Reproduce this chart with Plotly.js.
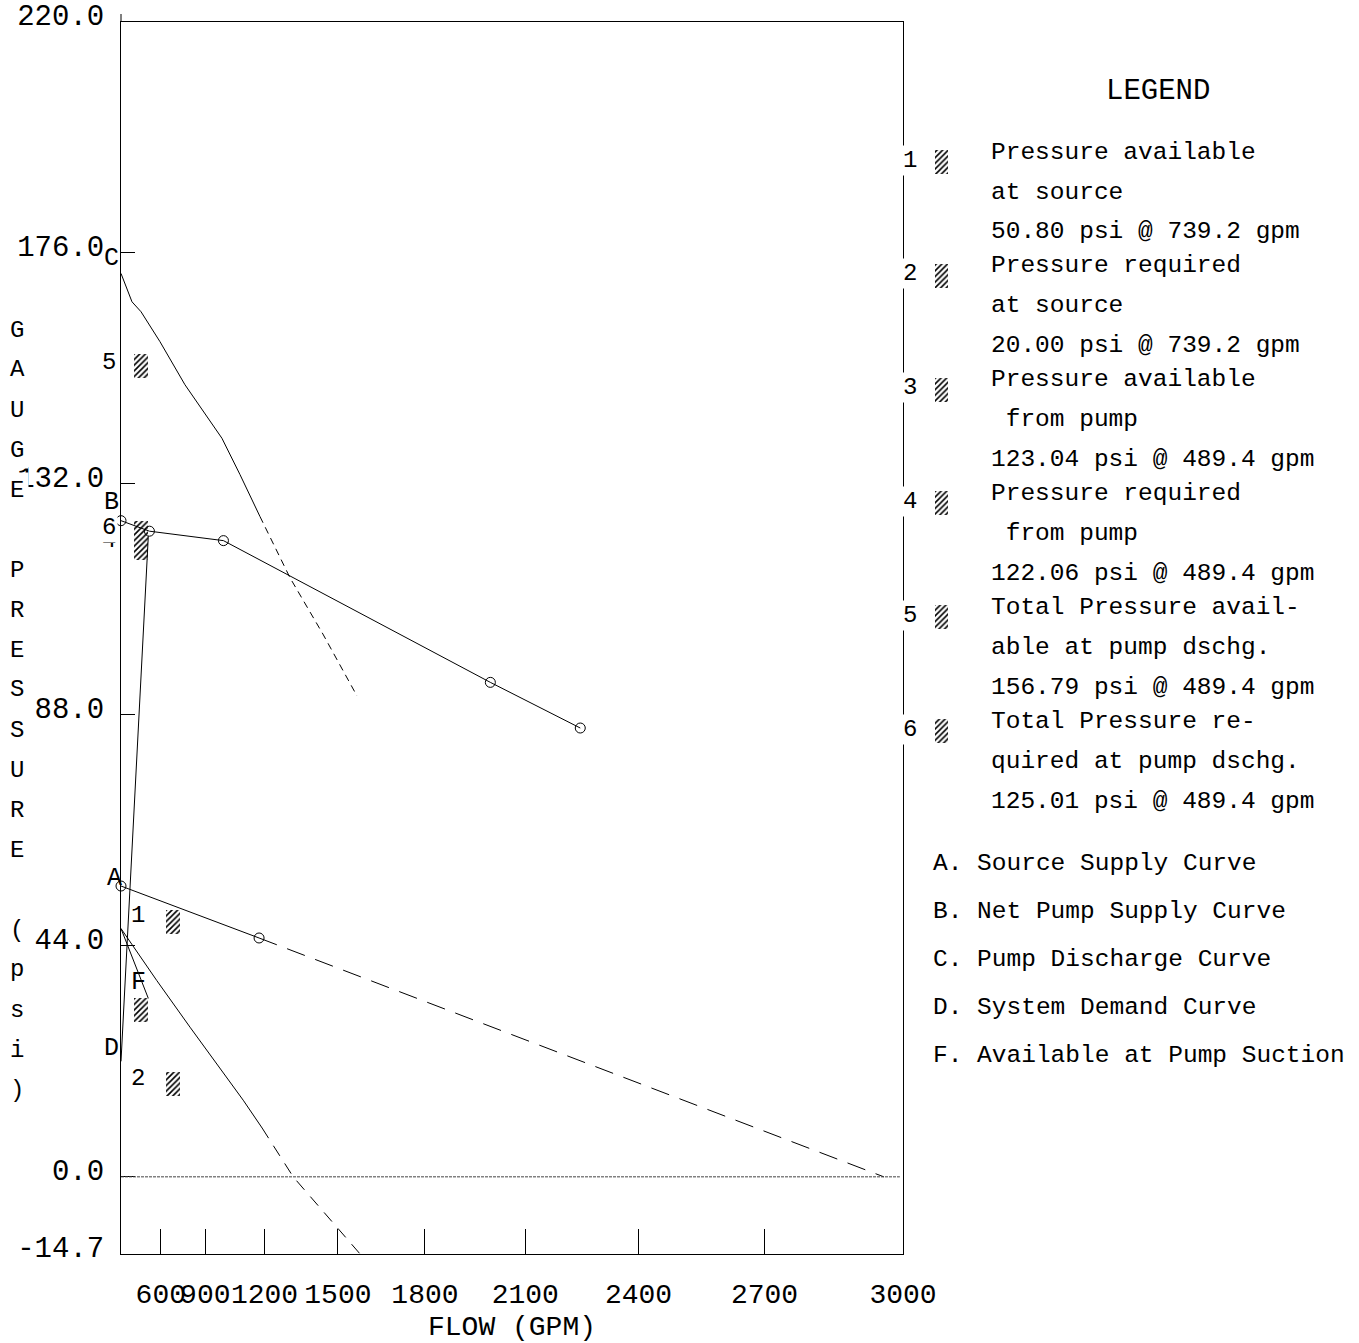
<!DOCTYPE html>
<html><head><meta charset="utf-8">
<script src="https://cdn.plot.ly/plotly-3.0.1.min.js"></script>
<style>html,body{margin:0;padding:0;background:#fff}</style>
</head><body>
<div id="chart" style="width:1359px;height:1343px"></div>
<script>
// ---------- data ----------
const FLOW_MAX = 3000;
const flowTicks = [600, 900, 1200, 1500, 1800, 2100, 2400, 2700, 3000];
const psiTicks = [-14.7, 0, 44, 88, 132, 176, 220];
const psiTickText = ['-14.7', '0.0', '44.0', '88.0', '132.0', '176.0', '220.0'];

// A. Source supply curve (solid part with test points, dashed extension)
const sourceFlow = [0, 1175];
const sourcePsi = [55.4, 45.5];
const sourceExtFlow = [1175, 2960];
const sourceExtPsi = [45.5, 0];

// B. Net pump supply curve
const netPumpFlow = [0, 500, 1000, 2000, 2250];
const netPumpPsi = [125.0, 123.0, 121.2, 94.2, 85.5];

// C. Pump discharge curve
const dischFlow = [0, 299, 414, 593, 775, 927, 992, 1084, 1179];
const dischPsi = [172.1, 166.7, 164.8, 159.1, 150.9, 143.9, 140.7, 133.8, 125.8];
const dischExtFlow = [1179, 1311, 1443, 1570];
const dischExtPsi = [125.8, 114.1, 103.4, 91.6];

// D. System demand curve
const demandFlow = [0, 489.4];
const demandPsi = [22.0, 122.06];

// F. Available at pump suction
const suctionFlow = [0, 489.4];
const suctionPsi = [47.3, 34.0];

// suction supply curve (solid, then dashed)
const suctCurveFlow = [0, 566, 808, 1100, 1189];
const suctCurvePsi = [47.3, 37.4, 28.5, 14.6, 9.3];
const suctCurveExtFlow = [1189, 1324, 1581];
const suctCurveExtPsi = [9.3, 0, -14.7];

// hatched pressure markers (flow, psi)
const hatchFlow = [739.2, 739.2, 489.4, 489.4, 489.4, 489.4, 489.4];
const hatchPsi = [50.80, 20.00, 123.04, 122.06, 156.79, 125.01, 34.0];

// legend
const legendNums = ['1', '2', '3', '4', '5', '6'];
const legendLines = [
  ['Pressure available', 'at source', '50.80 psi @ 739.2 gpm'],
  ['Pressure required', 'at source', '20.00 psi @ 739.2 gpm'],
  ['Pressure available', '\u00A0from pump', '123.04 psi @ 489.4 gpm'],
  ['Pressure required', '\u00A0from pump', '122.06 psi @ 489.4 gpm'],
  ['Total Pressure avail-', 'able at pump dschg.', '156.79 psi @ 489.4 gpm'],
  ['Total Pressure re-', 'quired at pump dschg.', '125.01 psi @ 489.4 gpm']
];
const curveLegend = ['A. Source Supply Curve', 'B. Net Pump Supply Curve', 'C. Pump Discharge Curve',
  'D. System Demand Curve', 'F. Available at Pump Suction'];
const yTitle = 'GAUGE PRESSURE (psi)';
const xTitle = 'FLOW (GPM)';

// ---------- geometry ----------
const W = 1359, H = 1343;
const L = 121, PLOT_R = 903, T = 22, PLOT_B = 1254, PAPER_R = 1349;
const PW = PAPER_R - L, PH = PLOT_B - T;
const pxX = x => (x - L) / PW;
const pxY = y => (PLOT_B - y) / PH;
const PSI_PER_PX = (220 + 14.7) / PH;
const u = q => Math.pow(q / FLOW_MAX, 1.85);   // N^1.85 hydraulic scale

const FONT = 'Liberation Mono, Courier New, monospace';
const line = (dash) => ({color: 'black', width: 1, dash: dash || 'solid'});

const traces = [];
function addLine(fl, ps, dash, markers) {
  traces.push({
    type: 'scatter', x: fl.map(u), y: ps, mode: markers ? 'lines+markers' : 'lines',
    line: line(dash), cliponaxis: false, hoverinfo: 'skip', showlegend: false,
    marker: {symbol: 'circle-open', size: 10, color: 'black', line: {width: 1, color: 'black'}}
  });
}
addLine(sourceFlow, sourcePsi, null, true);
addLine(sourceExtFlow, sourceExtPsi, '19px,11px', false);
addLine(netPumpFlow, netPumpPsi, null, true);
addLine(dischFlow, dischPsi, null, false);
addLine(dischExtFlow, dischExtPsi, '7px,5px', false);
addLine(demandFlow, demandPsi, null, false);
addLine(suctionFlow, suctionPsi, null, false);
addLine(suctCurveFlow, suctCurvePsi, null, false);
addLine(suctCurveExtFlow, suctCurveExtPsi, '12px,9px', false);

// hatch markers
const hatchH = 24 * PSI_PER_PX;
const hatchW = 14 / (PLOT_R - L);
const pattern = {shape: '/', size: 4, solidity: 0.4, fgcolor: 'black', bgcolor: 'white', fillmode: 'replace'};
traces.push({
  type: 'bar', x: hatchFlow.map(u), y: hatchPsi.map(() => hatchH), base: hatchPsi.map(p => p - hatchH),
  width: hatchFlow.map(() => hatchW), offset: hatchFlow.map(() => -hatchW),
  marker: {color: 'white', pattern: pattern, line: {width: 0}}, hoverinfo: 'skip', showlegend: false
});
// legend swatches (second x axis in legend column)
const rowTop = i => 150 + 113.8 * i;
const pAt = y => (PLOT_B - y) * PSI_PER_PX - 14.7;
traces.push({
  type: 'bar', xaxis: 'x2', yaxis: 'y', x: legendNums.map(() => 0.5),
  y: legendNums.map(() => hatchH), base: legendNums.map((n, i) => pAt(rowTop(i)) - hatchH),
  width: legendNums.map(() => 1),
  marker: {color: 'white', pattern: pattern, line: {width: 0}}, hoverinfo: 'skip', showlegend: false
});

// ---------- annotations ----------
const ann = [];
function txt(text, x, y, size, opts) {
  ann.push(Object.assign({text: text, xref: 'paper', yref: 'paper', x: pxX(x), y: pxY(y),
    xanchor: 'center', yanchor: 'middle', showarrow: false, font: {family: FONT, size: size, color: 'black'},
    borderpad: 1}, opts || {}));
}
// y title as stacked letters
yTitle.split('').forEach((ch, i) => { if (ch !== ' ') txt(ch, 17, 330 + 40 * i, 24, {bgcolor: 'white', borderpad: 4}); });
// curve labels
txt('C', 111, 258, 25);
txt('5', 109, 362, 24);
txt('B', 111, 502, 25);
txt('4', 109, 540, 24);
txt('6', 109, 527, 24, {bgcolor: 'white'});
txt('A', 114, 878, 25);
txt('1', 138, 915, 24);
txt('F', 138, 983, 25);
txt('D', 111, 1048, 25);
txt('2', 138, 1078, 24);
// legend
txt('LEGEND', 1158, 92, 29);
legendNums.forEach((n, i) => {
  txt(n, 910, rowTop(i) + 10, 24, {bgcolor: 'white'});
  legendLines[i].forEach((s, j) => txt(s, 989, rowTop(i) + 2 + 40 * j, 24.5, {xanchor: 'left'}));
});
curveLegend.forEach((s, k) => txt(s, 931, 863 + 48 * k, 24.5, {xanchor: 'left'}));

// ---------- layout ----------
const layout = {
  width: W, height: H, autosize: false,
  margin: {l: L, r: W - PAPER_R, t: T, b: H - PLOT_B, pad: 0},
  paper_bgcolor: 'white', plot_bgcolor: 'white',
  font: {family: FONT, color: 'black'},
  showlegend: false, barmode: 'overlay', bargap: 0,
  xaxis: {
    domain: [0, (PLOT_R - L) / PW], range: [0, 1],
    tickmode: 'array', tickvals: flowTicks.map(u), ticktext: flowTicks.map(String),
    ticks: 'inside', ticklen: 25, tickwidth: 1, tickcolor: 'black', tickangle: 0,
    tickfont: {family: FONT, size: 28, color: 'black'}, ticklabelstandoff: 14, ticklabeloverflow: 'allow',
    showline: true, linecolor: 'black', linewidth: 1, mirror: true,
    showgrid: false, zeroline: false, fixedrange: true,
    title: {text: xTitle, font: {family: FONT, size: 28, color: 'black'}, standoff: 17}
  },
  xaxis2: {domain: [pxX(935), pxX(948)], range: [0, 1], anchor: 'y', visible: false, fixedrange: true},
  yaxis: {
    range: [-14.7, 220], tickmode: 'array', tickvals: psiTicks, ticktext: psiTickText,
    ticks: 'inside', ticklen: 14, tickwidth: 1, tickcolor: 'black',
    tickfont: {family: FONT, size: 29, color: 'black'}, ticklabelshift: -7, ticklabelstandoff: 10,
    ticklabeloverflow: 'allow',
    showline: true, linecolor: 'black', linewidth: 1, mirror: true,
    showgrid: false, zeroline: false, fixedrange: true
  },
  shapes: [
    {type: 'line', xref: 'x domain', yref: 'y', x0: 0, x1: 0.996, y0: 0, y1: 0,
     line: {color: '#444', width: 1, dash: '3px,1px'}},
    {type: 'line', xref: 'x domain', yref: 'y domain', x0: 0, x1: 0, y0: 1, y1: 1 + 8 / PH,
     line: {color: 'black', width: 1}}
  ],
  annotations: ann
};

Plotly.newPlot('chart', traces, layout, {displayModeBar: false, staticPlot: true});
</script>
</body></html>
